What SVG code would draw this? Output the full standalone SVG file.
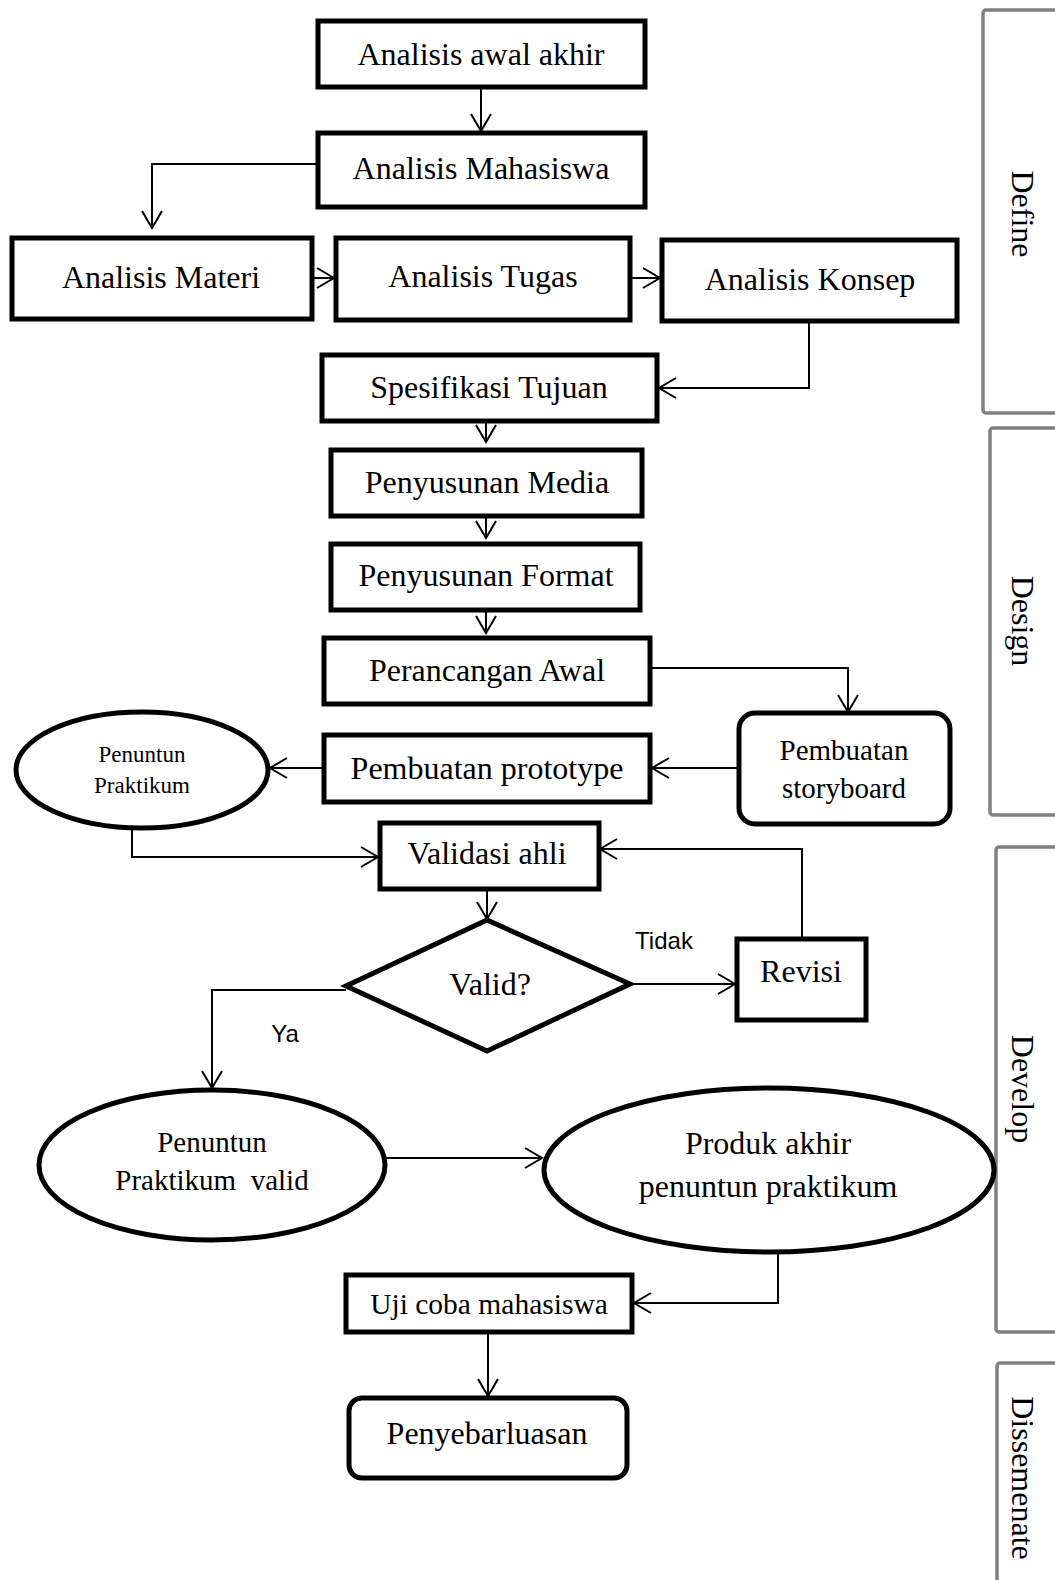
<svg xmlns="http://www.w3.org/2000/svg" width="1055" height="1580" viewBox="0 0 1055 1580">
<style>
.n{fill:#fff;stroke:#000;stroke-width:5}
.t{font-family:"Liberation Serif","Times New Roman",serif;font-size:32px;fill:#000;text-anchor:middle}
.s{font-family:"Liberation Sans",Arial,sans-serif;font-size:24px;fill:#000;text-anchor:middle}
.c{fill:none;stroke:#000;stroke-width:2}
.p{fill:#fff;stroke:#808080;stroke-width:3.5}
.pl{font-family:"Liberation Serif","Times New Roman",serif;font-size:32px;fill:#000;text-anchor:middle}
</style>
<defs>
<marker id="ah" markerWidth="20" markerHeight="22" refX="18" refY="11" orient="auto" markerUnits="userSpaceOnUse">
<path d="M1,1 L18,11 L1,21" fill="none" stroke="#000" stroke-width="2"/>
</marker>
</defs>
<rect width="1055" height="1580" fill="#fff"/>

<g id="phases">
<g id="phase-define"><rect class="p" x="983" y="10" width="90" height="403" rx="3"/><text class="pl" transform="translate(1012,214) rotate(90)">Define</text></g>
<g id="phase-design"><rect class="p" x="990" y="428" width="90" height="387" rx="3"/><text class="pl" transform="translate(1012,621) rotate(90)">Design</text></g>
<g id="phase-develop"><rect class="p" x="996" y="847" width="90" height="485" rx="3"/><text class="pl" transform="translate(1012,1089) rotate(90)">Develop</text></g>
<g id="phase-dissemenate"><rect class="p" x="997" y="1363" width="90" height="260" rx="3"/><text class="pl" transform="translate(1012,1478) rotate(90)">Dissemenate</text></g>
</g>

<g id="connectors">
<path class="c" d="M481,87 V131" marker-end="url(#ah)"/>
<path class="c" d="M318,164 H152 V228" marker-end="url(#ah)"/>
<path class="c" d="M312,278 H334" marker-end="url(#ah)"/>
<path class="c" d="M630,278 H660" marker-end="url(#ah)"/>
<path class="c" d="M809,321 V388 H659" marker-end="url(#ah)"/>
<path class="c" d="M486,421 V442" marker-end="url(#ah)"/>
<path class="c" d="M486,516 V538" marker-end="url(#ah)"/>
<path class="c" d="M486,610 V633" marker-end="url(#ah)"/>
<path class="c" d="M650,668 H848 V712" marker-end="url(#ah)"/>
<path class="c" d="M739,768 H652" marker-end="url(#ah)"/>
<path class="c" d="M324,768 H270" marker-end="url(#ah)"/>
<path class="c" d="M132,829 V857 H378" marker-end="url(#ah)"/>
<path class="c" d="M802,939 V849 H600" marker-end="url(#ah)"/>
<path class="c" d="M487,889 V919" marker-end="url(#ah)"/>
<path class="c" d="M630,984 H735" marker-end="url(#ah)"/>
<path class="c" d="M346,990 H212 V1088" marker-end="url(#ah)"/>
<path class="c" d="M385,1158 H542" marker-end="url(#ah)"/>
<path class="c" d="M778,1252 V1303 H634" marker-end="url(#ah)"/>
<path class="c" d="M488,1332 V1396" marker-end="url(#ah)"/>
<text class="s" x="664" y="949">Tidak</text>
<text class="s" x="285" y="1042">Ya</text>
</g>

<g id="n-analisis-awal-akhir"><rect class="n" x="318" y="21" width="327" height="66"/><text class="t" x="481" y="65">Analisis awal akhir</text></g>
<g id="n-analisis-mahasiswa"><rect class="n" x="318" y="133" width="327" height="74"/><text class="t" x="481" y="179">Analisis Mahasiswa</text></g>
<g id="n-analisis-materi"><rect class="n" x="12" y="238" width="300" height="81"/><text class="t" x="161" y="288">Analisis Materi</text></g>
<g id="n-analisis-tugas"><rect class="n" x="336" y="238" width="294" height="82"/><text class="t" x="483" y="287">Analisis Tugas</text></g>
<g id="n-analisis-konsep"><rect class="n" x="662" y="240" width="295" height="81"/><text class="t" x="810" y="290">Analisis Konsep</text></g>
<g id="n-spesifikasi-tujuan"><rect class="n" x="322" y="355" width="335" height="66"/><text class="t" x="489" y="398">Spesifikasi Tujuan</text></g>
<g id="n-penyusunan-media"><rect class="n" x="331" y="450" width="311" height="66"/><text class="t" x="487" y="493">Penyusunan Media</text></g>
<g id="n-penyusunan-format"><rect class="n" x="331" y="544" width="309" height="66"/><text class="t" x="486" y="586">Penyusunan Format</text></g>
<g id="n-perancangan-awal"><rect class="n" x="324" y="638" width="326" height="66"/><text class="t" x="487" y="681">Perancangan Awal</text></g>
<g id="n-pembuatan-storyboard"><rect class="n" x="739" y="713" width="211" height="111" rx="16"/><text class="t" x="844" y="760" style="font-size:29px">Pembuatan</text><text class="t" x="844" y="798" style="font-size:29px">storyboard</text></g>
<g id="n-pembuatan-prototype"><rect class="n" x="324" y="735" width="326" height="67"/><text class="t" x="487" y="779">Pembuatan prototype</text></g>
<g id="n-penuntun-praktikum"><ellipse class="n" cx="142" cy="770" rx="126" ry="58"/><text class="t" x="142" y="762" style="font-size:23px">Penuntun</text><text class="t" x="142" y="793" style="font-size:23px">Praktikum</text></g>
<g id="n-validasi-ahli"><rect class="n" x="380" y="823" width="219" height="66"/><text class="t" x="487" y="864">Validasi ahli</text></g>
<g id="n-valid"><polygon class="n" points="487,920 630,984 487,1051 346,986"/><text class="t" x="490" y="995">Valid?</text></g>
<g id="n-revisi"><rect class="n" x="737" y="939" width="129" height="81"/><text class="t" x="801" y="982">Revisi</text></g>
<g id="n-penuntun-valid"><ellipse class="n" cx="212" cy="1165" rx="173" ry="75"/><text class="t" x="212" y="1152" style="font-size:29px">Penuntun</text><text class="t" x="212" y="1190" style="font-size:29px;white-space:pre" xml:space="preserve">Praktikum  valid</text></g>
<g id="n-produk-akhir"><ellipse class="n" cx="769" cy="1170" rx="225" ry="82"/><text class="t" x="768" y="1154">Produk akhir</text><text class="t" x="768" y="1197">penuntun praktikum</text></g>
<g id="n-uji-coba"><rect class="n" x="346" y="1275" width="286" height="57"/><text class="t" x="489" y="1314" style="font-size:29.5px">Uji coba mahasiswa</text></g>
<g id="n-penyebarluasan"><rect class="n" x="349" y="1398" width="278" height="80" rx="13"/><text class="t" x="487" y="1444">Penyebarluasan</text></g>
</svg>
